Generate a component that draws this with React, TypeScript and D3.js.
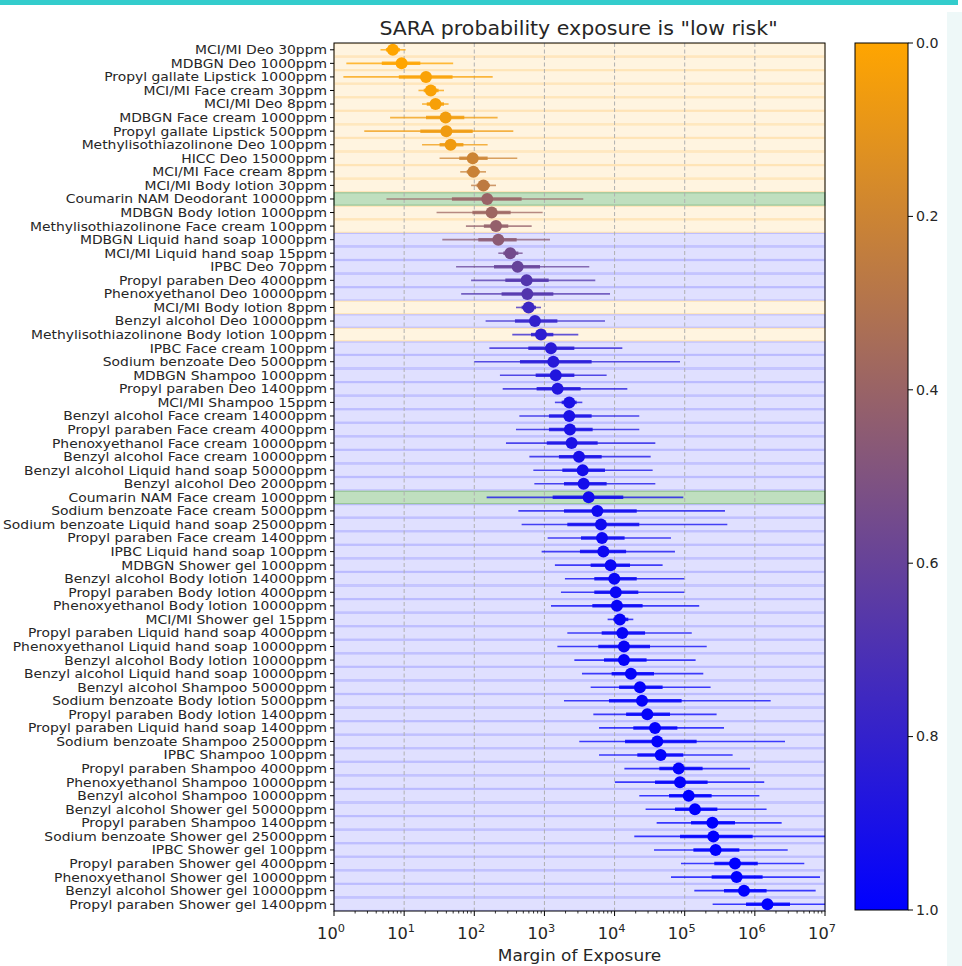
import React, { useRef, useEffect } from "react";
import * as d3 from "d3";

/* row labels, top to bottom */
const LABELS = [
  "MCI/MI Deo 30ppm", "MDBGN Deo 1000ppm", "Propyl gallate Lipstick 1000ppm", "MCI/MI Face cream 30ppm",
  "MCI/MI Deo 8ppm", "MDBGN Face cream 1000ppm", "Propyl gallate Lipstick 500ppm", "Methylisothiazolinone Deo 100ppm",
  "HICC Deo 15000ppm", "MCI/MI Face cream 8ppm", "MCI/MI Body lotion 30ppm", "Coumarin NAM Deodorant 10000ppm",
  "MDBGN Body lotion 1000ppm", "Methylisothiazolinone Face cream 100ppm", "MDBGN Liquid hand soap 1000ppm", "MCI/MI Liquid hand soap 15ppm",
  "IPBC Deo 70ppm", "Propyl paraben Deo 4000ppm", "Phenoxyethanol Deo 10000ppm", "MCI/MI Body lotion 8ppm",
  "Benzyl alcohol Deo 10000ppm", "Methylisothiazolinone Body lotion 100ppm", "IPBC Face cream 100ppm", "Sodium benzoate Deo 5000ppm",
  "MDBGN Shampoo 1000ppm", "Propyl paraben Deo 1400ppm", "MCI/MI Shampoo 15ppm", "Benzyl alcohol Face cream 14000ppm",
  "Propyl paraben Face cream 4000ppm", "Phenoxyethanol Face cream 10000ppm", "Benzyl alcohol Face cream 10000ppm", "Benzyl alcohol Liquid hand soap 50000ppm",
  "Benzyl alcohol Deo 2000ppm", "Coumarin NAM Face cream 1000ppm", "Sodium benzoate Face cream 5000ppm", "Sodium benzoate Liquid hand soap 25000ppm",
  "Propyl paraben Face cream 1400ppm", "IPBC Liquid hand soap 100ppm", "MDBGN Shower gel 1000ppm", "Benzyl alcohol Body lotion 14000ppm",
  "Propyl paraben Body lotion 4000ppm", "Phenoxyethanol Body lotion 10000ppm", "MCI/MI Shower gel 15ppm", "Propyl paraben Liquid hand soap 4000ppm",
  "Phenoxyethanol Liquid hand soap 10000ppm", "Benzyl alcohol Body lotion 10000ppm", "Benzyl alcohol Liquid hand soap 10000ppm", "Benzyl alcohol Shampoo 50000ppm",
  "Sodium benzoate Body lotion 5000ppm", "Propyl paraben Body lotion 1400ppm", "Propyl paraben Liquid hand soap 1400ppm", "Sodium benzoate Shampoo 25000ppm",
  "IPBC Shampoo 100ppm", "Propyl paraben Shampoo 4000ppm", "Phenoxyethanol Shampoo 10000ppm", "Benzyl alcohol Shampoo 10000ppm",
  "Benzyl alcohol Shower gel 50000ppm", "Propyl paraben Shampoo 1400ppm", "Sodium benzoate Shower gel 25000ppm", "IPBC Shower gel 100ppm",
  "Propyl paraben Shower gel 4000ppm", "Phenoxyethanol Shower gel 10000ppm", "Benzyl alcohol Shower gel 10000ppm", "Propyl paraben Shower gel 1400ppm",
];

/* median margin of exposure */
const MEDIAN = [
  6.9, 9.2, 20.5, 24, 28, 39, 40, 46, 95, 97, 135, 153, 177, 204, 220, 326,
  415, 557, 570, 596, 733, 893, 1240, 1340, 1450, 1540, 2260, 2260, 2310, 2440, 3110, 3510,
  3620, 4270, 5680, 6400, 6620, 6920, 8790, 9910, 10400, 10800, 11900, 12900, 13600, 13600, 17100, 23000,
  24600, 29300, 37700, 40600, 45400, 82000, 85700, 114000, 140000, 248000, 256000, 276000, 521000, 550000, 700000, 1510000,
];
/* inner (thick) interval */
const INNER_LO = [
  5.5, 4.8, 8.4, 19, 21, 20.5, 17, 32, 61, 78, 108, 48, 94, 137, 114, 259,
  191, 277, 245, 473, 380, 643, 589, 448, 750, 774, 1760, 1160, 1160, 1080, 1610, 1800,
  1900, 1310, 1900, 2120, 3320, 3210, 4560, 5140, 5140, 4820, 9600, 6550, 5860, 7060, 9080, 11600,
  8320, 14600, 18500, 14100, 21100, 43400, 37700, 59700, 72600, 123000, 85700, 133000, 264000, 242000, 363000, 748000,
];
const INNER_HI = [
  8.7, 17, 49, 31, 37, 72, 95, 70, 155, 120, 167, 473, 330, 305, 402, 425,
  865, 1150, 1340, 759, 1530, 1340, 2670, 4710, 2670, 3280, 2880, 4710, 4870, 5740, 6550, 7300,
  7710, 13300, 20700, 22500, 13900, 14600, 16600, 20700, 21800, 25100, 15700, 27200, 32000, 28600, 36500, 48400,
  90400, 61700, 78500, 148000, 95500, 180000, 212000, 242000, 292000, 521000, 931000, 601000, 1100000, 1290000, 1470000, 3170000,
];
/* outer (thin) interval */
const OUTER_LO = [
  4.6, 1.5, 1.36, 16, 18, 6.3, 2.7, 18, 32, 63, 90, 5.6, 29, 76, 35, 220,
  55, 90, 65, 393, 145, 348, 164, 100, 232, 254, 1410, 439, 393, 283, 610, 695,
  718, 150, 425, 473, 1110, 912, 1410, 1960, 1720, 1240, 7960, 2120, 1530, 2670, 3430, 4560,
  1900, 4980, 6000, 3140, 6000, 13800, 10100, 22500, 27700, 39800, 19100, 36500, 88500, 63700, 137000, 250000,
];
const OUTER_HI = [
  10.5, 50, 183, 37, 43, 215, 360, 155, 410, 147, 204, 3580, 944, 658, 1200, 489,
  4360, 5310, 8610, 893, 7300, 3040, 12900, 85700, 7710, 15200, 3470, 22500, 22500, 38100, 32700, 34900,
  38100, 95500, 375000, 405000, 63700, 72600, 48400, 98600, 98600, 161000, 18500, 126000, 206000, 143000, 184000, 234000,
  1680000, 285000, 363000, 2690000, 482000, 853000, 1360000, 1160000, 1470000, 2410000, 12000000, 2940000, 5070000, 8490000, 7360000, 15000000,
];
/* probability that exposure is "low risk" (colour) */
const PROB = [
  0.0, 0.0, 0.02, 0.02, 0.03, 0.05, 0.06, 0.06, 0.2, 0.21, 0.26, 0.4, 0.38, 0.42, 0.45, 0.55,
  0.6, 0.68, 0.68, 0.76, 0.8, 0.82, 0.84, 0.85, 0.87, 0.87, 0.9, 0.9, 0.9, 0.9, 0.91, 0.92,
  0.92, 0.93, 0.94, 0.94, 0.95, 0.95, 0.96, 0.96, 0.96, 0.97, 0.97, 0.97, 0.97, 0.98, 0.98, 0.98,
  0.98, 0.98, 0.99, 0.99, 0.99, 0.99, 0.99, 1.0, 1.0, 1.0, 1.0, 1.0, 1.0, 1.0, 1.0, 1.0,
];
/* row background: L = low risk, N = NAM, O = other */
const BAND = [
  "L", "L", "L", "L", "L", "L", "L", "L", "L", "L", "L", "N", "L", "L", "O", "O",
  "O", "O", "O", "L", "O", "L", "O", "O", "O", "O", "O", "O", "O", "O", "O", "O",
  "O", "N", "O", "O", "O", "O", "O", "O", "O", "O", "O", "O", "O", "O", "O", "O",
  "O", "O", "O", "O", "O", "O", "O", "O", "O", "O", "O", "O", "O", "O", "O", "O",
];
const CBAR_TICKS = [0, 0.2, 0.4, 0.6, 0.8, 1.0];

const BAND_FILL = { L: "rgba(255,165,0,0.12)", N: "rgba(0,128,0,0.25)", O: "rgba(0,0,255,0.12)" };
const BAND_EDGE = { L: "rgba(255,165,0,0.22)", N: "rgba(0,110,0,0.3)", O: "rgba(0,0,255,0.2)" };

export default function App() {
  const svgRef = useRef(null);

  useEffect(() => {
    document.body.style.margin = "0";
    const W = 962;
    const H = 966;
    const M = { top: 43, left: 334, right: 825, bottom: 911 };
    const FONT = "DejaVu Sans";
    const TXT = "#262626";

    const rows = LABELS.map((label, i) => ({
      label,
      med: MEDIAN[i],
      iLo: INNER_LO[i],
      iHi: INNER_HI[i],
      oLo: OUTER_LO[i],
      oHi: OUTER_HI[i],
      p: PROB[i],
      band: BAND[i],
    }));

    const x = d3.scaleLog().domain([1, 1e7]).range([M.left, M.right]);
    const y = d3.scaleBand().domain(LABELS).range([M.top, M.bottom]).padding(0);
    const bw = y.bandwidth();
    const cy = (d) => y(d.label) + bw / 2;
    const cmap = d3.interpolateRgb("#FFA500", "#0000FF");

    // text in the reference is a bit wider than plain DejaVu
    const place = (px, py, sx) => `translate(${px},${py}) scale(${sx},1)`;

    const svg = d3
      .select(svgRef.current)
      .attr("width", W)
      .attr("height", H)
      .style("font-family", FONT)
      .style("background", "#fff");
    svg.selectAll("*").remove();

    /* page decoration */
    svg.append("rect").attr("x", 947).attr("y", 12).attr("width", 15).attr("height", H).attr("fill", "#eef8f8");
    svg.append("rect").attr("x", 0).attr("y", 0).attr("width", 958).attr("height", 5).attr("fill", "#33cccc");

    const defs = svg.append("defs");
    defs
      .append("clipPath")
      .attr("id", "plot-clip")
      .append("rect")
      .attr("x", M.left)
      .attr("y", M.top)
      .attr("width", M.right - M.left)
      .attr("height", M.bottom - M.top);

    /* ---- row backgrounds ---- */
    svg
      .append("g")
      .selectAll("rect")
      .data(rows)
      .enter()
      .append("rect")
      .attr("x", M.left)
      .attr("y", (d) => y(d.label) + 0.5)
      .attr("width", M.right - M.left)
      .attr("height", bw - 1)
      .attr("fill", (d) => BAND_FILL[d.band])
      .attr("stroke", (d) => BAND_EDGE[d.band])
      .attr("stroke-width", 1.2);

    /* ---- vertical grid ---- */
    const decades = d3.range(0, 8).map((k) => Math.pow(10, k));
    svg
      .append("g")
      .selectAll("line")
      .data(decades.slice(1, -1))
      .enter()
      .append("line")
      .attr("x1", (d) => x(d))
      .attr("x2", (d) => x(d))
      .attr("y1", M.top)
      .attr("y2", M.bottom)
      .attr("stroke", "#b0b0b0")
      .attr("stroke-width", 1)
      .attr("stroke-dasharray", "4,2.5");

    /* ---- error bars + points ---- */
    const marks = svg.append("g").attr("clip-path", "url(#plot-clip)");
    marks
      .selectAll("line.outer")
      .data(rows)
      .enter()
      .append("line")
      .attr("x1", (d) => x(d.oLo))
      .attr("x2", (d) => x(d.oHi))
      .attr("y1", cy)
      .attr("y2", cy)
      .attr("stroke", (d) => cmap(d.p))
      .attr("stroke-opacity", 0.75)
      .attr("stroke-width", 1.6);
    marks
      .selectAll("line.inner")
      .data(rows)
      .enter()
      .append("line")
      .attr("x1", (d) => x(d.iLo))
      .attr("x2", (d) => x(d.iHi))
      .attr("y1", cy)
      .attr("y2", cy)
      .attr("stroke", (d) => cmap(d.p))
      .attr("stroke-opacity", 0.85)
      .attr("stroke-width", 3.5);
    marks
      .selectAll("circle")
      .data(rows)
      .enter()
      .append("circle")
      .attr("cx", (d) => x(d.med))
      .attr("cy", cy)
      .attr("r", 6)
      .attr("fill", (d) => cmap(d.p));

    /* ---- frame ---- */
    svg
      .append("rect")
      .attr("x", M.left)
      .attr("y", M.top)
      .attr("width", M.right - M.left)
      .attr("height", M.bottom - M.top)
      .attr("fill", "none")
      .attr("stroke", "#000")
      .attr("stroke-width", 1);

    /* ---- y ticks and labels ---- */
    const yAx = svg.append("g");
    yAx
      .selectAll("line")
      .data(rows)
      .enter()
      .append("line")
      .attr("x1", M.left - 4)
      .attr("x2", M.left)
      .attr("y1", cy)
      .attr("y2", cy)
      .attr("stroke", "#000");
    yAx
      .selectAll("text")
      .data(rows)
      .enter()
      .append("text")
      .attr("transform", (d) => place(M.left - 7, cy(d), 1.13))
      .attr("dy", "0.36em")
      .attr("text-anchor", "end")
      .attr("fill", TXT)
      .style("font-size", "12.3px")
      .text((d) => d.label);

    /* ---- x ticks ---- */
    const minor = [];
    for (let k = 0; k < 7; k++) for (let m = 2; m < 10; m++) minor.push(m * Math.pow(10, k));
    const xAx = svg.append("g");
    xAx
      .selectAll("line.minor")
      .data(minor)
      .enter()
      .append("line")
      .attr("x1", (d) => x(d))
      .attr("x2", (d) => x(d))
      .attr("y1", M.bottom)
      .attr("y2", M.bottom + 2.5)
      .attr("stroke", "#000")
      .attr("stroke-width", 0.8);
    xAx
      .selectAll("line.major")
      .data(decades)
      .enter()
      .append("line")
      .attr("x1", (d) => x(d))
      .attr("x2", (d) => x(d))
      .attr("y1", M.bottom)
      .attr("y2", M.bottom + 5)
      .attr("stroke", "#000");
    const tl = xAx
      .selectAll("text")
      .data(decades)
      .enter()
      .append("text")
      .attr("transform", (d) => place(x(d) - 3, M.bottom + 28, 1.08))
      .attr("text-anchor", "middle")
      .attr("fill", TXT)
      .style("font-size", "15px");
    tl.append("tspan").text("10");
    tl.append("tspan")
      .attr("dy", -7)
      .style("font-size", "10.5px")
      .text((d) => String(Math.round(Math.log10(d))));

    svg
      .append("text")
      .attr("transform", place((M.left + M.right) / 2, 961, 1.06))
      .attr("text-anchor", "middle")
      .attr("fill", TXT)
      .style("font-size", "16px")
      .text("Margin of Exposure");

    svg
      .append("text")
      .attr("transform", place((M.left + M.right) / 2 - 1, 35, 1.08))
      .attr("text-anchor", "middle")
      .attr("fill", TXT)
      .style("font-size", "19px")
      .text('SARA probability exposure is "low risk"');

    /* ---- colour bar ---- */
    const CB = { x: 855, w: 53 };
    const cbY = d3.scaleLinear().domain([0, 1]).range([M.top, M.bottom - 1]);
    const grad = defs
      .append("linearGradient")
      .attr("id", "cbar")
      .attr("x1", 0)
      .attr("x2", 0)
      .attr("y1", 0)
      .attr("y2", 1);
    d3.range(0, 1.0001, 0.1).forEach((t) =>
      grad.append("stop").attr("offset", t).attr("stop-color", cmap(t))
    );
    svg
      .append("rect")
      .attr("x", CB.x)
      .attr("y", cbY(0))
      .attr("width", CB.w)
      .attr("height", cbY(1) - cbY(0))
      .attr("fill", "url(#cbar)")
      .attr("stroke", "#000")
      .attr("stroke-width", 1);
    const cbt = svg.append("g");
    cbt
      .selectAll("line")
      .data(CBAR_TICKS)
      .enter()
      .append("line")
      .attr("x1", CB.x + CB.w)
      .attr("x2", CB.x + CB.w + 5)
      .attr("y1", (d) => cbY(d))
      .attr("y2", (d) => cbY(d))
      .attr("stroke", "#000");
    cbt
      .selectAll("text")
      .data(CBAR_TICKS)
      .enter()
      .append("text")
      .attr("transform", (d) => place(CB.x + CB.w + 8, cbY(d), 1.05))
      .attr("dy", "0.36em")
      .attr("fill", TXT)
      .style("font-size", "13.5px")
      .text((d) => d.toFixed(1));
  }, []);

  return <svg ref={svgRef} style={{ display: "block" }} />;
}
